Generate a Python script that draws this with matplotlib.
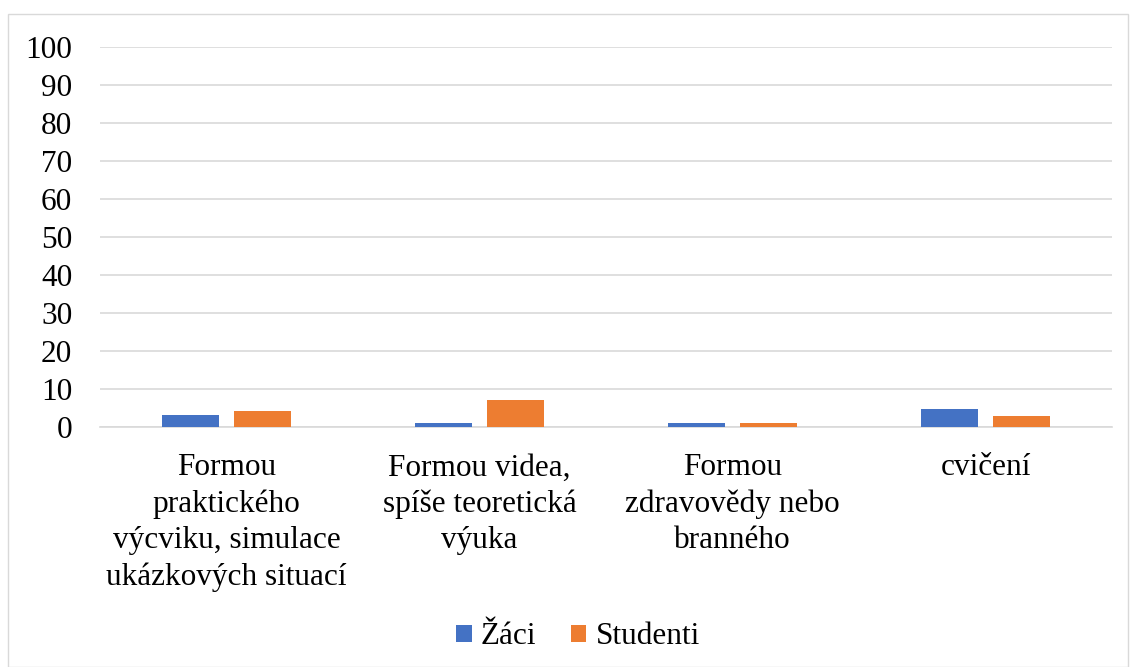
import numpy as np
import matplotlib.pyplot as plt
from matplotlib.patches import Rectangle

categories = ["Formou\npraktického\nvýcviku, simulace\nukázkových situací",
              "Formou videa,\nspíše teoretická\nvýuka",
              "Formou\nzdravovědy nebo\nbranného",
              "cvičení"]
zaci = [3.1, 1.0, 1.0, 4.7]
studenti = [4.2, 7.1, 1.0, 2.8]

plt.rcParams['font.family'] = ['Liberation Serif', 'DejaVu Serif']

fig = plt.figure(figsize=(11.3, 6.67), dpi=100)
fig.patches.append(Rectangle((8 / 1130, 0), 1120 / 1130, 653 / 667, transform=fig.transFigure,
                             fill=False, edgecolor='#d9d9d9', linewidth=1))
ax = fig.add_axes([100 / 1130, 1 - 427 / 667, 1012 / 1130, 380 / 667])

x = np.arange(len(categories))
w = 0.225
ax.bar(x - 0.143, zaci, w, color='#4472c4', label='Žáci', zorder=3)
ax.bar(x + 0.143, studenti, w, color='#ed7d31', label='Studenti', zorder=3)

ax.set_xlim(-0.5, 3.5)
ax.set_ylim(0, 100)
ax.set_yticks(range(0, 101, 10))
ax.yaxis.grid(True, color='#d9d9d9', linewidth=1.2, zorder=0)
ax.tick_params(axis='y', length=0, labelsize=22.5, pad=20)
ax.tick_params(axis='x', length=0, labelsize=22.5, pad=19)
ax.set_xticks(x)
ax.set_xticklabels(categories, linespacing=1.32)
for s in ['top', 'right', 'left']:
    ax.spines[s].set_visible(False)
ax.spines['bottom'].set_color('#d9d9d9')
ax.spines['bottom'].set_linewidth(1.2)

fig.legend(loc='center', bbox_to_anchor=(578 / 1130, 1 - 637 / 667), ncol=2, frameon=False,
           fontsize=22.5, handlelength=0.5, handleheight=0.5, handletextpad=0.3, columnspacing=1.1)

fig.savefig('out.png', dpi=100)
